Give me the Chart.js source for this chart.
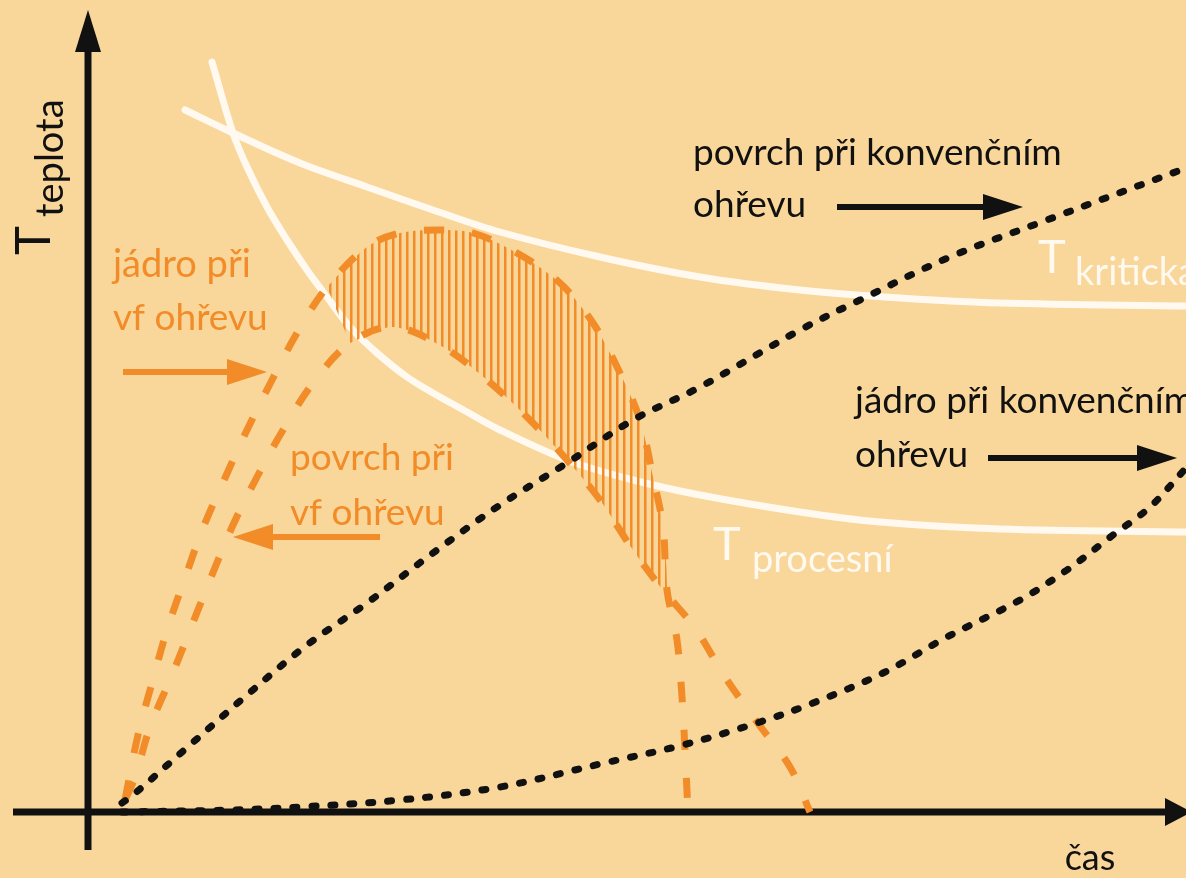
<!DOCTYPE html>
<html><head><meta charset="utf-8">
<script src="https://cdn.jsdelivr.net/npm/chart.js@4.4.1/dist/chart.umd.min.js"></script>
<style>html,body{margin:0;padding:0;background:#F9D699;overflow:hidden}#wrap{width:1186px;height:878px;position:relative}</style>
</head><body><div id="wrap"><canvas id="c" width="1186" height="878"></canvas></div>
<script>
// schematic units: t = time (čas), T = temperature (teplota); origin at the axes' crossing
const kritickaT = [97,145,212,279,345,412,512,612,712,812,912,1098];
const kritickaY = [702,679,649,625,602,580,555,535,522,514,509,506];

const procesniT = [124,145,159,179,199,219,239,262,289,319,345,372,412,479,545,612,712,792,912,1098];
const procesniY = [750,679,645,605,572,542,515,485,459,435,419,404,382,352,332,317,300,290,283,280];

const povrchKonvT = [34,45,102,159,219,279,345,412,479,545,612,712,772,862,959,1098];
const povrchKonvY = [9,17,67,117,167,209,259,307,349,392,425,482,512,555,592,644];

const jadroKonvT = [34,145,212,312,412,512,595,672,725,795,859,932,979,1025,1062,1098];
const jadroKonvY = [0,2,5,12,25,48,67,90,109,139,175,212,242,277,305,344];

const jadroVfT = [37,50,64,79,97,115,137,159,184,209,239,279,312,352,385,429,472,505,532,552,565,575,579,589,594,597,600];
const jadroVfY = [12,77,129,182,234,284,334,382,432,479,525,565,579,582,579,559,529,489,439,392,335,285,222,172,115,62,0];

const povrchVfT = [37,47,62,84,104,124,145,169,195,225,262,305,355,399,442,479,512,545,575,607,637,669,702,722];
const povrchVfY = [12,35,85,137,187,237,287,335,382,429,469,485,465,432,392,352,312,262,222,184,135,90,45,0];

// time range of the hatched zone between the two RF curves
const hatchFrom = 239, hatchLowFrom = 262, hatchTo = 579;

const pts = (ts, ys) => ts.map((t, i) => ({x: t, y: ys[i]}));

const hatchPts = [];
jadroVfT.forEach((t, i) => { if (t >= hatchFrom && t <= hatchTo) hatchPts.push({x: t, y: jadroVfY[i]}); });
for (let i = povrchVfT.length - 1; i >= 0; i--) {
  const t = povrchVfT[i];
  if (t >= hatchLowFrom && t <= hatchTo) hatchPts.push({x: t, y: povrchVfY[i]});
}

const ORANGE = '#F28C28', WHITE = '#FFF9F0', BLACK = '#111111', BG = '#F9D699';
const canvas = document.getElementById('c');
const pc = document.createElement('canvas'); pc.width = 7; pc.height = 7;
const pg = pc.getContext('2d'); pg.fillStyle = ORANGE; pg.fillRect(0, 0, 2.5, 7);
const hatch = canvas.getContext('2d').createPattern(pc, 'repeat');

const FONT = 'Lato, "Noto Sans", sans-serif';

const deco = {
  id: 'deco',
  beforeDraw(chart) {
    const c = chart.ctx; c.save(); c.fillStyle = BG; c.fillRect(0, 0, chart.width, chart.height); c.restore();
  },
  beforeDatasetsDraw(chart) {
    const c = chart.ctx, X = chart.scales.x, Y = chart.scales.y;
    const x0 = X.getPixelForValue(0), y0 = Y.getPixelForValue(0);
    c.save();
    c.strokeStyle = BLACK; c.fillStyle = BLACK; c.lineWidth = 7; c.lineCap = 'butt';
    c.beginPath(); c.moveTo(x0, Y.getPixelForValue(-38)); c.lineTo(x0, Y.getPixelForValue(760)); c.stroke();
    c.beginPath(); c.moveTo(x0, Y.getPixelForValue(802)); c.lineTo(x0 - 13, Y.getPixelForValue(760)); c.lineTo(x0 + 13, Y.getPixelForValue(760)); c.closePath(); c.fill();
    c.beginPath(); c.moveTo(X.getPixelForValue(-75), y0); c.lineTo(X.getPixelForValue(1078), y0); c.stroke();
    c.beginPath(); c.moveTo(X.getPixelForValue(1104), y0); c.lineTo(X.getPixelForValue(1077), y0 - 14); c.lineTo(X.getPixelForValue(1077), y0 + 14); c.closePath(); c.fill();
    c.restore();
  },
  afterDatasetsDraw(chart, args, opts) {
    const c = chart.ctx, X = chart.scales.x, Y = chart.scales.y;
    c.save();
    for (const a of opts.arrows) {
      const x1 = X.getPixelForValue(a.t1), y1 = Y.getPixelForValue(a.T1);
      const x2 = X.getPixelForValue(a.t2), y2 = Y.getPixelForValue(a.T2);
      const dir = Math.sign(x2 - x1);
      c.strokeStyle = a.color; c.fillStyle = a.color; c.lineWidth = 6;
      c.beginPath(); c.moveTo(x1, y1); c.lineTo(x2 - dir * 30, y2); c.stroke();
      c.beginPath(); c.moveTo(x2, y2); c.lineTo(x2 - dir * 40, y2 - 13); c.lineTo(x2 - dir * 40, y2 + 13); c.closePath(); c.fill();
    }
    c.textBaseline = 'alphabetic';
    for (const s of opts.texts) {
      c.font = (s.weight || 'normal') + ' ' + s.size + 'px ' + FONT;
      c.fillStyle = s.color; c.textAlign = s.align || 'left';
      c.fillText(s.text, X.getPixelForValue(s.t), Y.getPixelForValue(s.T));
    }
    // rotated y-axis title
    c.save();
    c.translate(50, 255); c.rotate(-Math.PI / 2);
    c.fillStyle = BLACK; c.textAlign = 'left';
    c.font = '49px ' + FONT; c.fillText('T', 0, 0);
    c.font = '38px ' + FONT; c.fillText('teplota', 38, 13);
    c.restore();
    c.restore();
  }
};

const lineDs = (label, data, color, width, dash, cap, order) => ({
  label, data, borderColor: color, borderWidth: width, borderDash: dash, borderCapStyle: cap,
  pointRadius: 0, fill: false, tension: 0.35, order
});

new Chart(canvas, {
  type: 'line',
  data: {
    datasets: [
      lineDs('povrch při konvenčním ohřevu', pts(povrchKonvT, povrchKonvY), BLACK, 7, [4, 15], 'round', 0),
      lineDs('jádro při konvenčním ohřevu', pts(jadroKonvT, jadroKonvY), BLACK, 7, [4, 15], 'round', 0),
      lineDs('jádro při vf ohřevu', pts(jadroVfT, jadroVfY), ORANGE, 7, [20, 28], 'butt', 1),
      lineDs('povrch při vf ohřevu', pts(povrchVfT, povrchVfY), ORANGE, 7, [20, 28], 'butt', 1),
      {label: 'zone', data: hatchPts, borderWidth: 0, borderColor: 'rgba(0,0,0,0)', backgroundColor: hatch,
       fill: 'shape', pointRadius: 0, tension: 0.3, order: 2},
      lineDs('T kritická', pts(kritickaT, kritickaY), WHITE, 7, [], 'round', 3),
      lineDs('T procesní', pts(procesniT, procesniY), WHITE, 7, [], 'round', 3)
    ]
  },
  options: {
    responsive: false, devicePixelRatio: 1, animation: false, events: [],
    layout: {padding: 0},
    scales: {
      x: {type: 'linear', min: -88, max: 1098, display: false},
      y: {type: 'linear', min: -66, max: 812, display: false}
    },
    plugins: {
      legend: {display: false}, tooltip: {enabled: false},
      deco: {
        arrows: [
          {t1: 749, T1: 605, t2: 935, T2: 605, color: BLACK},
          {t1: 900, T1: 354, t2: 1089, T2: 354, color: BLACK},
          {t1: 35, T1: 440, t2: 179, T2: 440, color: ORANGE},
          {t1: 292, T1: 275, t2: 145, T2: 275, color: ORANGE}
        ],
        texts: [
          {text: 'povrch při konvenčním', t: 605, T: 647, size: 37, color: BLACK},
          {text: 'ohřevu', t: 605, T: 595, size: 37, color: BLACK},
          {text: 'jádro při konvenčním', t: 767, T: 399, size: 37, color: BLACK},
          {text: 'ohřevu', t: 767, T: 345, size: 37, color: BLACK},
          {text: 'T', t: 950, T: 539, size: 47, color: WHITE},
          {text: 'kritická', t: 987, T: 527, size: 38, color: WHITE},
          {text: 'T', t: 625, T: 252, size: 47, color: WHITE},
          {text: 'procesní', t: 664, T: 240, size: 38, color: WHITE},
          {text: 'jádro při', t: 25, T: 535, size: 38, color: ORANGE},
          {text: 'vf ohřevu', t: 25, T: 482, size: 37, color: ORANGE},
          {text: 'povrch při', t: 202, T: 342, size: 37, color: ORANGE},
          {text: 'vf ohřevu', t: 202, T: 287, size: 37, color: ORANGE},
          {text: 'čas', t: 1002, T: -58, size: 36, color: BLACK, align: 'center'}
        ]
      }
    }
  },
  plugins: [deco]
});
</script></body></html>
